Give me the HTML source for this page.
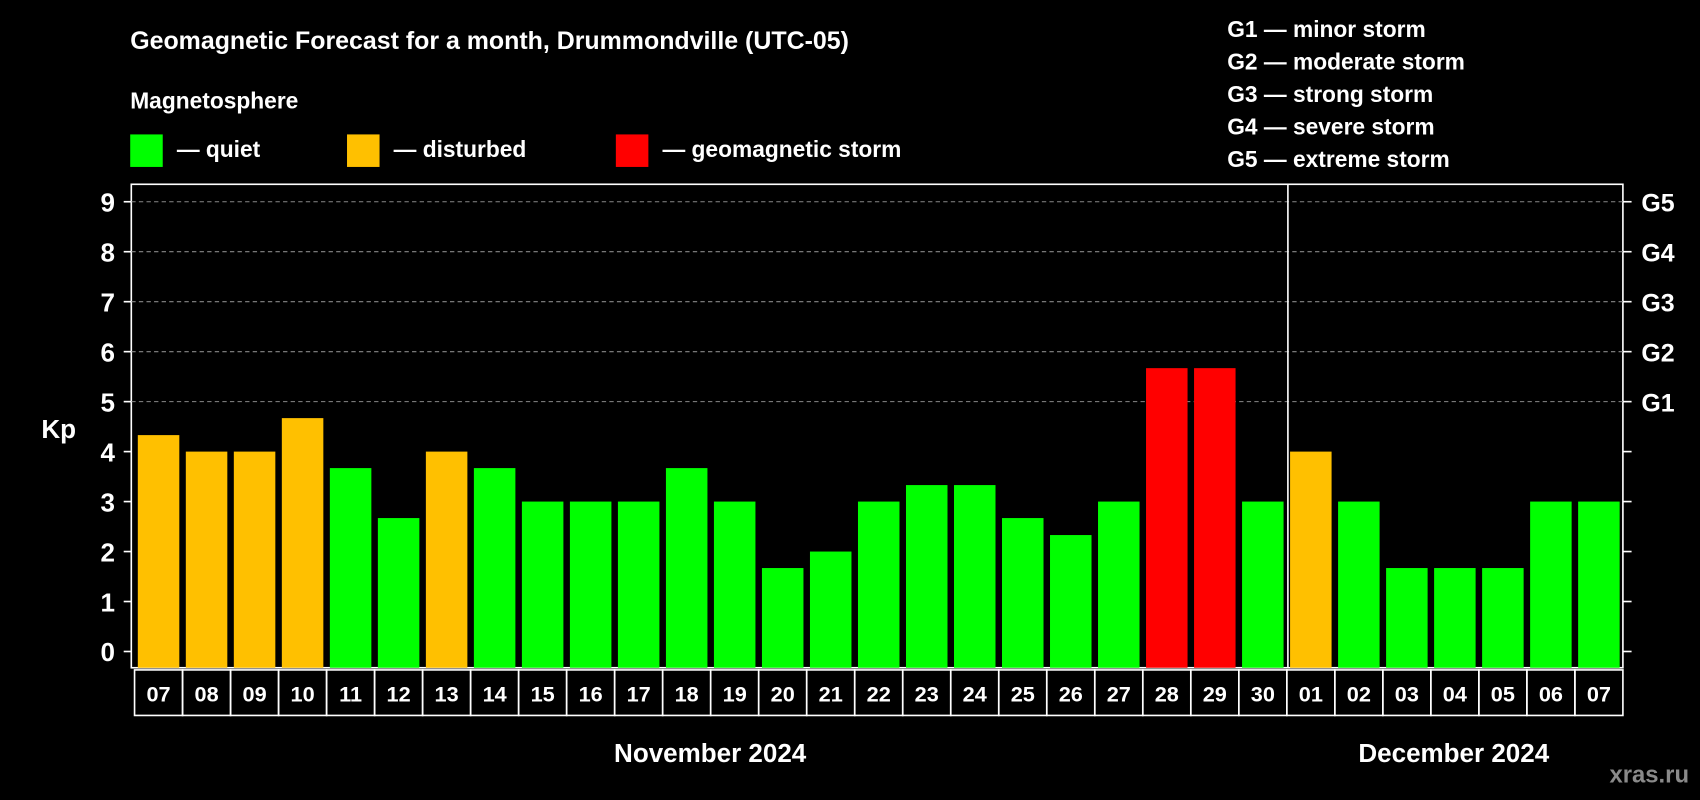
<!DOCTYPE html>
<html><head><meta charset="utf-8"><style>
html,body{margin:0;padding:0;background:#000;}
svg{display:block;}
text{font-family:"Liberation Sans",sans-serif;font-weight:bold;fill:#fff;}
</style></head><body>
<svg id="chart" width="1700" height="800" viewBox="0 0 1568 738">
<rect x="0" y="0" width="1568" height="738" fill="#000"/>
<text x="120" y="45" font-size="23">Geomagnetic Forecast for a month, Drummondville (UTC-05)</text>
<text x="120" y="100" font-size="21">Magnetosphere</text>
<g><rect x="120" y="124" width="30" height="30" fill="#00ff00"/><text x="163" y="145" font-size="21">— quiet</text></g>
<g><rect x="320" y="124" width="30" height="30" fill="#ffc000"/><text x="363" y="145" font-size="21">— disturbed</text></g>
<g><rect x="568" y="124" width="30" height="30" fill="#ff0000"/><text x="611" y="145" font-size="21">— geomagnetic storm</text></g>
<g font-size="21">
<text x="1132" y="34">G1 — minor storm</text>
<text x="1132" y="64">G2 — moderate storm</text>
<text x="1132" y="94">G3 — strong storm</text>
<text x="1132" y="124">G4 — severe storm</text>
<text x="1132" y="154">G5 — extreme storm</text>
</g>
<text x="38" y="404" font-size="24">Kp</text>
<g id="plot"></g>
<text x="655" y="703" font-size="24" text-anchor="middle">November 2024</text>
<text x="1341" y="703" font-size="24" text-anchor="middle">December 2024</text>
<text x="1558" y="722" font-size="22" text-anchor="end" fill="#888" style="fill:#8a8a8a">xras.ru</text>
</svg>
<script>
const days=["07","08","09","10","11","12","13","14","15","16","17","18","19","20","21","22","23","24","25","26","27","28","29","30","01","02","03","04","05","06","07"];
const kp=[4.33,4,4,4.67,3.67,2.67,4,3.67,3,3,3,3.67,3,1.67,2,3,3.33,3.33,2.67,2.33,3,5.67,5.67,3,4,3,1.67,1.67,1.67,3,3];
const yTicks=[0,1,2,3,4,5,6,7,8,9];
const gLabels=["G1","G2","G3","G4","G5"];
const gLevels=[5,6,7,8,9];
const NS="http://www.w3.org/2000/svg";
const g=document.getElementById('plot');
const L=121,R=1497,T=170,B=616,X0=124,step=(R-X0)/days.length;
const y=v=>601-v*46.1;
const x=i=>X0+i*step;
function mk(t,a){const e=document.createElementNS(NS,t);for(const k in a)e.setAttribute(k,a[k]);g.appendChild(e);return e;}
let e=mk('rect',{x:L,y:T,width:R-L,height:B-T,fill:'none',stroke:'#fff','stroke-width':1.5});


gLevels.forEach((v,i)=>{
 let l=mk('line',{x1:L,x2:R,y1:y(v),y2:y(v),stroke:'#888','stroke-dasharray':'4,3','stroke-width':1});
 
 
 let t=mk('text',{x:1514,y:y(v)+9,'font-size':23});
 t.textContent=gLabels[i];
 
 
});
yTicks.forEach(v=>{
 let l=mk('line',{x1:L-7,x2:L,y1:y(v),y2:y(v),stroke:'#fff','stroke-width':1.5});
 
 
 let r=mk('line',{x1:R,x2:R+8,y1:y(v),y2:y(v),stroke:'#fff','stroke-width':1.5});
 
 
 let t=mk('text',{x:106,y:y(v)+9,'font-size':24,'text-anchor':'end'});
 t.textContent=v;
 
 
});
kp.forEach((v,i)=>{
 const c=v>=5?'#ff0000':(v>=4?'#ffc000':'#00ff00');
 let b=mk('rect',{x:x(i)+3,y:y(v),width:step-6,height:B-y(v),fill:c});
 
 
 let c2=mk('rect',{x:x(i),y:618,width:step,height:42,fill:'none',stroke:'#fff','stroke-width':1.5});
 
 
 let t=mk('text',{x:x(i)+step/2,y:647,'font-size':20,'text-anchor':'middle'});
 t.textContent=days[i];
 
 
});
let s=mk('line',{x1:x(24)+1,x2:x(24)+1,y1:T,y2:B,stroke:'#fff','stroke-width':1.5});


</script>
</body></html>
